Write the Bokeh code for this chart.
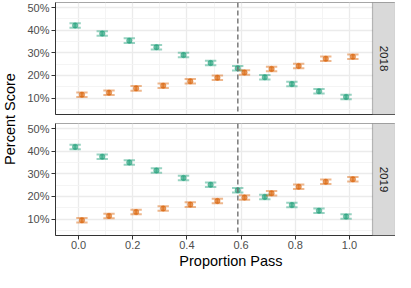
import numpy as np
import pandas as pd
from bokeh.plotting import figure
from bokeh.layouts import row, column
from bokeh.models import ColumnDataSource, FixedTicker, Span, BoxAnnotation, Label
from bokeh.embed import file_html
from bokeh.resources import INLINE

# ---------------- data ----------------
years = ["2018", "2019"]
proportion_pass = [0.0, 0.1, 0.2, 0.3, 0.4, 0.5, 0.6, 0.7, 0.8, 0.9, 1.0]

score_green_2018 = [42.1, 38.5, 35.4, 32.5, 29.0, 25.5, 23.2, 19.2, 16.2, 13.0, 10.5]
score_orange_2018 = [11.5, 12.4, 14.3, 15.5, 17.4, 19.0, 21.3, 22.9, 24.2, 27.4, 28.3]
score_green_2019 = [41.9, 37.6, 35.0, 31.5, 28.2, 25.2, 22.7, 19.8, 16.2, 13.7, 11.1]
score_orange_2019 = [9.5, 11.4, 13.1, 14.7, 16.4, 18.0, 19.5, 21.4, 24.3, 26.5, 27.6]

err_green = [1.0] * 11
err_orange = [1.0] * 11

pass_cutoff = 0.588

x_ticks = [0.0, 0.2, 0.4, 0.6, 0.8, 1.0]
x_tick_labels = ["0.0", "0.2", "0.4", "0.6", "0.8", "1.0"]
x_minor = [0.1, 0.3, 0.5, 0.7, 0.9]
y_ticks = [10, 20, 30, 40, 50]
y_tick_labels = ["10%", "20%", "30%", "40%", "50%"]
y_minor = [5, 15, 25, 35, 45]

# ---------------- style / layout ----------------
GREEN = "#1b9e77"
ORANGE = "#d95f02"
FONT = "Liberation Sans"
DODGE = 0.0125
CAP = 0.021

X0, X1 = -0.085, 1.085
Y0, Y1 = 2.75, 52.25
PANEL_PX = 317
STRIP_PX = 23
X_END = X1 + (X1 - X0) * STRIP_PX / PANEL_PX

LEFT_B = 35
FIG_W = LEFT_B + PANEL_PX + STRIP_PX
YT_W = 20
FRAME_H = 112


def make_panel(year, green, orange, top_b, bottom_b, show_x):
    p = figure(width=FIG_W, height=top_b + FRAME_H + bottom_b,
               x_range=(X0, X_END), y_range=(Y0, Y1),
               output_backend="svg", toolbar_location=None,
               min_border_left=LEFT_B, min_border_right=0,
               min_border_top=top_b, min_border_bottom=bottom_b)
    p.background_fill_color = "white"
    p.border_fill_color = "white"
    p.outline_line_color = "#a6a6a6"
    p.outline_line_width = 1

    # grids
    p.xgrid.ticker = FixedTicker(ticks=x_ticks, minor_ticks=x_minor)
    p.ygrid.ticker = FixedTicker(ticks=y_ticks, minor_ticks=y_minor)
    for g in (p.xgrid[0], p.ygrid[0]):
        g.grid_line_color = "#ebebeb"
        g.grid_line_width = 1.3
        g.minor_grid_line_color = "#f3f3f3"
        g.minor_grid_line_width = 0.9

    # axes
    p.yaxis.ticker = FixedTicker(ticks=y_ticks, minor_ticks=[])
    p.yaxis.major_label_overrides = {t: l for t, l in zip(y_ticks, y_tick_labels)}
    if show_x:
        p.xaxis.ticker = FixedTicker(ticks=x_ticks, minor_ticks=[])
        p.xaxis.major_label_overrides = {t: l for t, l in zip(x_ticks, x_tick_labels)}
    else:
        p.xaxis.ticker = FixedTicker(ticks=[], minor_ticks=[])
    for ax in (p.xaxis[0], p.yaxis[0]):
        ax.axis_line_color = "#333333"
        ax.axis_line_width = 1
        ax.major_tick_line_color = "#333333"
        ax.major_tick_in = 0
        ax.major_tick_out = 4
        ax.minor_tick_in = 0
        ax.minor_tick_out = 0
        ax.major_label_text_font = FONT
        ax.major_label_text_font_size = "11px"
        ax.major_label_text_color = "#4d4d4d"
        ax.major_label_standoff = 2
    if not show_x:
        p.xaxis.major_tick_out = 0
        p.xaxis.major_label_standoff = 0
    else:
        p.xaxis.major_label_standoff = 1

    # cutoff line
    p.add_layout(Span(location=pass_cutoff, dimension="height",
                      line_color="#707070", line_dash="5 3", line_width=1.4))

    # series
    for vals, errs, col, off in ((green, err_green, GREEN, -DODGE),
                                 (orange, err_orange, ORANGE, DODGE)):
        df = pd.DataFrame({"prop": proportion_pass, "y": vals, "e": errs})
        df["x"] = df["prop"] + off
        df["lo"] = df["y"] - df["e"]
        df["hi"] = df["y"] + df["e"]
        df["xl"] = df["x"] - CAP
        df["xr"] = df["x"] + CAP
        src = ColumnDataSource(df)
        p.segment(x0="x", y0="lo", x1="x", y1="hi", source=src,
                  line_color=col, line_alpha=0.45, line_width=1.8)
        p.segment(x0="xl", y0="lo", x1="xr", y1="lo", source=src,
                  line_color=col, line_alpha=0.45, line_width=2)
        p.segment(x0="xl", y0="hi", x1="xr", y1="hi", source=src,
                  line_color=col, line_alpha=0.45, line_width=2)
        p.scatter(x="x", y="y", source=src, size=5.5, fill_color=col,
                  line_color=col, fill_alpha=0.65, line_alpha=0.35)

    # strip
    p.add_layout(BoxAnnotation(left=X1, right=X_END, bottom=Y0, top=Y1,
                               fill_color="#d9d9d9", fill_alpha=1,
                               line_color="#333333", line_width=1.2))
    p.add_layout(Label(x=(X1 + X_END) / 2, y=(Y0 + Y1) / 2, text=year,
                       angle=-np.pi / 2, text_align="center",
                       text_baseline="middle", text_font=FONT,
                       text_font_size="11.5px", text_color="#1a1a1a"))
    return p


p1 = make_panel(years[0], score_green_2018, score_orange_2018, 2, 4, False)
p2 = make_panel(years[1], score_green_2019, score_orange_2019, 5, 17, True)

XT_H = 272 - p1.height - p2.height
xt = figure(width=FIG_W, height=XT_H, x_range=(0, FIG_W), y_range=(0, XT_H),
            output_backend="svg", toolbar_location=None,
            x_axis_location=None, y_axis_location=None,
            min_border=0)
xt.grid.visible = False
xt.outline_line_color = None
xt.add_layout(Label(x=LEFT_B + PANEL_PX / 2, y=XT_H - 8.6, text="Proportion Pass",
                    text_align="center", text_baseline="middle",
                    text_font=FONT, text_font_size="14.5px", text_color="#000000"))

yt = figure(width=YT_W, height=272, x_range=(0, YT_W), y_range=(0, 272),
            output_backend="svg", toolbar_location=None,
            x_axis_location=None, y_axis_location=None,
            min_border=0)
yt.grid.visible = False
yt.outline_line_color = None
yt.add_layout(Label(x=9.6, y=272 - 118.5, text="Percent Score", angle=np.pi / 2,
                    text_align="center", text_baseline="middle",
                    text_font=FONT, text_font_size="14.5px", text_color="#000000"))

layout = row(yt, column(p1, p2, xt))

open("out.html", "w").write(file_html(layout, INLINE))
